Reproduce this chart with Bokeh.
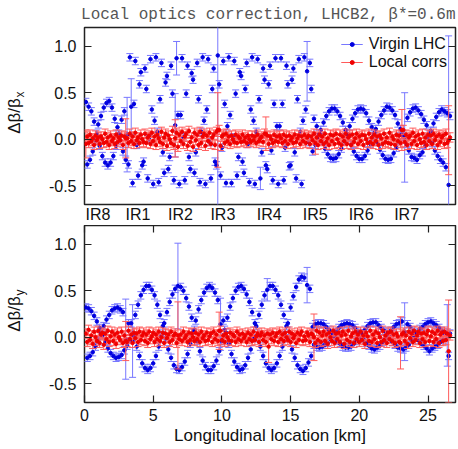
import numpy as np
from bokeh.plotting import figure
from bokeh.models import (Range1d, LinearAxis, FixedTicker, Legend, LegendItem,
                          ColumnDataSource, PrintfTickFormatter)
from bokeh.layouts import column
from bokeh.embed import file_html
from bokeh.resources import INLINE

# ---------------- data ----------------
s_km = [0.1, 0.2, 0.3, 0.4, 0.5, 0.6, 0.7, 0.8, 0.9, 1.0,
        1.1, 1.2, 1.3, 1.4, 1.5, 1.6, 1.7, 1.8, 1.9, 2.0,
        2.1, 2.2, 2.3, 2.4, 2.5, 2.6, 2.7, 2.8, 2.9, 3.0,
        3.1, 3.2, 3.3, 3.4, 3.5, 3.6, 3.7, 3.8, 3.9, 4.0,
        4.1, 4.2, 4.3, 4.4, 4.5, 4.6, 4.7, 4.8, 4.9, 5.0,
        5.1, 5.2, 5.3, 5.4, 5.5, 5.6, 5.7, 5.8, 5.9, 6.0,
        6.1, 6.2, 6.3, 6.4, 6.5, 6.6, 6.7, 6.8, 6.9, 7.0,
        7.1, 7.2, 7.3, 7.4, 7.5, 7.6, 7.7, 7.8, 7.9, 8.0,
        8.1, 8.2, 8.3, 8.4, 8.5, 8.6, 8.7, 8.8, 8.9, 9.0,
        9.1, 9.2, 9.3, 9.4, 9.5, 9.6, 9.7, 9.8, 9.9, 10.0,
        10.1, 10.2, 10.3, 10.4, 10.5, 10.6, 10.7, 10.8, 10.9, 11.0,
        11.1, 11.2, 11.3, 11.4, 11.5, 11.6, 11.7, 11.8, 11.9, 12.0,
        12.1, 12.2, 12.3, 12.4, 12.5, 12.6, 12.7, 12.8, 12.9, 13.0,
        13.1, 13.2, 13.3, 13.4, 13.5, 13.6, 13.7, 13.8, 13.9, 14.0,
        14.1, 14.2, 14.3, 14.4, 14.5, 14.6, 14.7, 14.8, 14.9, 15.0,
        15.1, 15.2, 15.3, 15.4, 15.5, 15.6, 15.7, 15.8, 15.9, 16.0,
        16.1, 16.2, 16.3, 16.4, 16.5, 16.6, 16.7, 16.8, 16.9, 17.0,
        17.1, 17.2, 17.3, 17.4, 17.5, 17.6, 17.7, 17.8, 17.9, 18.0,
        18.1, 18.2, 18.3, 18.4, 18.5, 18.6, 18.7, 18.8, 18.9, 19.0,
        19.1, 19.2, 19.3, 19.4, 19.5, 19.6, 19.7, 19.8, 19.9, 20.0,
        20.1, 20.2, 20.3, 20.4, 20.5, 20.6, 20.7, 20.8, 20.9, 21.0,
        21.1, 21.2, 21.3, 21.4, 21.5, 21.6, 21.7, 21.8, 21.9, 22.0,
        22.1, 22.2, 22.3, 22.4, 22.5, 22.6, 22.7, 22.8, 22.9, 23.0,
        23.1, 23.2, 23.3, 23.4, 23.5, 23.6, 23.7, 23.8, 23.9, 24.0,
        24.1, 24.2, 24.3, 24.4, 24.5, 24.6, 24.7, 24.8, 24.9, 25.0,
        25.1, 25.2, 25.3, 25.4, 25.5, 25.6, 25.7, 25.8, 25.9, 26.0,
        26.1, 26.2, 26.3, 26.4, 26.5, 26.6]

# horizontal beta-beating, virgin machine
dbx_virgin = [
    0.40, -0.27, 0.35, -0.22, 0.30, -0.13, 0.19, -0.01, 0.06, 0.16,
    -0.07, 0.25, -0.18, 0.34, -0.25, 0.39, -0.28, 0.41, -0.25, 0.34,
    -0.18, 0.22, -0.07, 0.13, 0.06, -0.01, 0.21, -0.13, 0.30, -0.22,
    0.05, -0.27,
    0.88, 0.35, -0.47, 0.38, 0.84, -0.06, -0.39, 0.59, 0.72, -0.28,
    -0.24, 0.76, 0.54, -0.42, 0.00, 0.86, 0.32, -0.48, 0.20, 0.88,
    0.08, -0.46, 0.43, 0.82, -0.14, -0.36, 0.61, 0.68, -0.32, -0.19,
    0.79, 0.49, -0.44, 0.15, 0.87, 0.26, -0.48, 0.26, 0.87, 0.02,
    -0.44, 0.49, 0.79, -0.19, -0.32, 0.71, 0.64, -0.36, -0.14, 0.82,
    0.43, -0.46, 0.08, 0.88, 0.20, -0.48, 0.32, 0.86, -0.03, -0.42,
    0.54, 0.76, -0.24, -0.28, 0.90, 0.59, -0.39, -0.09, 0.84, 0.38,
    -0.47, 0.14,
    0.88, 0.26, -0.47, 0.02, 0.84, 0.49, -0.39, -0.19, 0.72, 0.68,
    -0.24, -0.36, 0.54, 0.82, -0.05, -0.46, 0.32, 0.88, 0.20, -0.48,
    0.08, 0.86, 0.43, -0.42, -0.14, 0.76, 0.64, -0.28, -0.32, 0.59,
    0.79, -0.12, -0.44, 0.38, 0.87, 0.14, -0.48, 0.14, 0.87, 0.38,
    -0.44, -0.09, 0.79, 0.59, -0.29, -0.28, 0.64, 0.76, -0.14, -0.42,
    0.43, 0.86, 0.08, -0.48, 0.20, 0.88, 0.32, 0.73, -0.03, 0.82,
    0.54,
    -0.13, 0.22, -0.06, 0.14, 0.02, 0.06, 0.10, -0.02, 0.18, -0.10,
    0.25, -0.16, 0.30, -0.20, 0.33, -0.21, 0.33, -0.20, 0.30, -0.16,
    0.25, -0.10, 0.18, -0.02, 0.10, 0.06, 0.02, 0.14, -0.06, 0.22,
    -0.13, 0.28, -0.18, 0.32, -0.21, 0.33, -0.21, 0.32, -0.18, 0.28,
    -0.12, 0.20, -0.05, 0.13, 0.03, 0.07, 0.11, -0.03, 0.19, -0.11,
    0.26, -0.17, 0.31, -0.21, 0.35, -0.22, 0.34, -0.21, 0.31, -0.15,
    0.26, -0.09, 0.17, -0.01, 0.11, 0.05, 0.03, 0.02, -0.05, 0.23,
    -0.12, 0.29, -0.19, 0.33, -0.20, 0.34, -0.22, 0.31, -0.17, 0.27,
    -0.14, 0.21, -0.07, 0.15, 0.01, 0.05, 0.09, -0.04, 0.17, -0.12,
    0.24, -0.18, 0.29, -0.22, 0.32, -0.25, 0.30, -0.30, 0.28, -0.49,
    0.25]

# horizontal beta-beating after local corrections
dbx_corr = [
    -0.05, 0.03, -0.04, 0.05, -0.02, 0.01, -0.06, 0.04, -0.01, 0.02,
    -0.05, 0.03, 0.00, -0.04, 0.06, -0.03, 0.02, -0.06, 0.04, -0.02,
    0.01, -0.05, 0.05, -0.03, 0.02, -0.01, 0.04, -0.06, 0.03, 0.01,
    0.01, -0.04, 0.06, -0.02, 0.03, -0.05, 0.07, -0.01, 0.02, -0.04,
    0.05, 0.00, -0.03, 0.06, -0.04, 0.02, 0.04, -0.05, 0.07, -0.02,
    0.03, -0.06, 0.05, 0.01, -0.03, 0.08, -0.05, 0.02, 0.06, -0.07,
    0.04, 0.00, -0.04, 0.09, -0.06, 0.01, 0.07, -0.08, 0.05, -0.02,
    0.08, -0.05, 0.03, 0.06, -0.07, 0.09, -0.03, 0.02, -0.08, 0.07,
    -0.01, 0.05, -0.06, 0.08, -0.04, 0.03, 0.06, -0.07, 0.04, -0.02,
    0.07, -0.05, 0.02, 0.05, -0.06, 0.08, 0.10, 0.10, -0.07, 0.03,
    0.05, -0.04, 0.06, -0.02, 0.03, -0.05, 0.04, 0.00, -0.03, 0.05,
    -0.04, 0.03, 0.01, -0.03, 0.05, -0.02, 0.02, -0.04, 0.04, 0.00,
    -0.03, 0.04, -0.01, 0.03, -0.04, 0.05, -0.02, 0.01, 0.03, -0.03,
    0.06, 0.06, 0.04, -0.05, 0.03, 0.00, -0.04, 0.05, -0.02, 0.03,
    -0.03, 0.04, 0.01, -0.04, 0.05, -0.02, 0.03, -0.05, 0.04, -0.01,
    0.02, -0.04, 0.05, -0.03, 0.01, 0.04, -0.05, 0.03, -0.02, 0.05,
    -0.04, 0.02, 0.04, -0.05, 0.03, -0.01, 0.06, -0.04, 0.02, -0.06,
    0.05, -0.02, 0.03, -0.05, 0.06, -0.03, 0.01, -0.06, 0.05, -0.02,
    0.04, -0.05, 0.06, 0.00, -0.04, 0.05, -0.06, 0.03, -0.02, 0.06,
    -0.05, 0.02, 0.04, -0.06, 0.05, -0.03, 0.01, 0.06, -0.05, 0.03,
    -0.02, 0.05, -0.06, 0.04, 0.00, -0.04, 0.06, -0.03, 0.02, -0.05,
    0.05, -0.02, 0.03, -0.06, 0.04, 0.01, -0.05, 0.06, -0.03, 0.02,
    -0.04, 0.07, -0.05, 0.03, 0.00, -0.06, 0.05, -0.02, 0.04, -0.04,
    0.10, 0.10, -0.03, 0.05, -0.06, 0.02, 0.04, -0.05, 0.07, -0.02,
    0.03, -0.06, 0.05, 0.00, -0.04, 0.06, -0.03, 0.02, -0.06, 0.05,
    -0.02, 0.04, -0.05, 0.06, -0.01, 0.03, -0.06, 0.05, -0.03, 0.02,
    0.04, -0.05, 0.06, -0.04, -0.01, 0.02]

# vertical beta-beating, virgin machine
dby_virgin = [
    0.32, -0.22, 0.31, -0.20, 0.28, -0.16, 0.23, -0.10, 0.17, -0.03,
    0.10, 0.04, 0.02, 0.12, -0.05, 0.19, -0.12, 0.24, -0.17, 0.29,
    -0.20, 0.31, -0.22, 0.32, -0.21, 0.30, -0.19, 0.27, -0.14, -0.02,
    -0.09, 0.15, -0.02,
    0.15, -0.04, 0.02, 0.24, -0.10, 0.35, -0.20,
    0.45, -0.28, 0.51, -0.33, 0.55, -0.35, 0.55, -0.33, 0.51, -0.28,
    0.45, -0.20, 0.35, -0.10, 0.24, 0.02, 0.12, 0.15, -0.01, 0.27,
    -0.13, 0.38, -0.22, 0.46, -0.30, 0.52, -0.34, 0.55, -0.35, 0.54,
    -0.32, 0.50, -0.26, 0.42, -0.18, 0.33, -0.07, 0.21, 0.05, 0.08,
    0.18, -0.04, 0.30, -0.15, 0.40, -0.25, 0.48, -0.31, 0.53, -0.35,
    0.55, -0.35, 0.53, -0.31, 0.48, -0.25, 0.40, -0.15, 0.14, -0.04,
    0.18, 0.08, 0.05, 0.21, -0.07, 0.33, -0.18, 0.42, -0.26, 0.50,
    -0.32, 0.54, -0.35, 0.55, -0.34, 0.52, -0.30, 0.46, -0.22, 0.38,
    -0.13, 0.27, -0.01, 0.15, 0.12, 0.02, 0.24, -0.10, 0.35, -0.20,
    0.45, -0.28, 0.51, -0.33, 0.55, -0.35, 0.55, -0.33, 0.51, -0.28,
    0.45, -0.20, 0.35, -0.10, 0.24, 0.02, 0.12, 0.15, -0.01, 0.32,
    -0.13, 0.44, -0.22, 0.54, -0.30, 0.62, -0.34, 0.65, -0.36, 0.64,
    -0.33, 0.56, -0.27, 0.52, -0.20,
    0.11, -0.08, 0.14, -0.10, 0.15, -0.11, 0.15, -0.10, 0.14, -0.08,
    0.11, -0.06, 0.08, -0.02, 0.04, 0.02, 0.00, 0.06, -0.04, 0.10,
    -0.07, 0.13, -0.10, 0.14, -0.11, 0.15, -0.11, 0.14, -0.10, 0.13,
    -0.07, 0.10, -0.04, 0.06, 0.00, 0.02, 0.04, -0.02, 0.08, -0.06,
    0.12, -0.09, 0.15, -0.12, 0.16, -0.13, 0.16, -0.11, 0.13, -0.09,
    0.10, -0.05, 0.07, -0.01, 0.05, 0.01, 0.01, 0.07, -0.05, 0.11,
    -0.08, 0.14, -0.11, 0.15, -0.12, 0.17, -0.13, 0.06, -0.11, 0.14,
    -0.08, 0.11, -0.03, 0.07, 0.01, 0.03, 0.05, -0.03, 0.09, -0.07,
    0.11, -0.09, 0.14, -0.12, 0.16, -0.15, 0.17, -0.12, 0.15, -0.10,
    0.13, -0.08, 0.10, -0.05, 0.07, -0.03, 0.05, 0.03, 0.02, -0.20,
    0.04]

# vertical beta-beating after local corrections
dby_corr = [
    0.04, -0.05, 0.08, -0.03, 0.02, -0.07, 0.06, 0.00, -0.04, 0.07,
    -0.06, 0.03, 0.05, -0.08, 0.04, -0.02, 0.07, -0.05, 0.01, 0.06,
    -0.04, 0.03, -0.07, 0.05, 0.00, -0.03, 0.06, -0.06, 0.02, -0.04,
    -0.05, 0.07, -0.02, 0.03, -0.06, 0.05, -0.01, 0.04, -0.05, 0.06,
    -0.03, 0.02, 0.05, -0.04, 0.03, -0.06, 0.06, -0.02, 0.01, 0.05,
    -0.05, 0.03, -0.02, 0.06, -0.04, 0.00, 0.05, -0.06, 0.04, -0.01,
    0.03, -0.05, 0.06, -0.03, 0.02, 0.04, -0.06, 0.02, -0.02, 0.03,
    -0.04, 0.06, -0.01, 0.02, -0.05, 0.05, -0.03, 0.04, 0.00, -0.04,
    0.05, -0.02, 0.03, -0.05, 0.06, -0.01, 0.02, -0.04, 0.05, -0.03,
    0.01, 0.04, -0.05, 0.06, -0.02, 0.03, -0.04, 0.07, 0.07, -0.03,
    0.02, -0.05, 0.04, 0.00, -0.03, 0.05, -0.04, 0.03, 0.01, -0.05,
    0.06, -0.02, 0.03, -0.04, 0.04, -0.01, 0.02, -0.05, 0.05, -0.02,
    0.03, -0.04, 0.06, -0.03, 0.01, 0.04, -0.05, 0.02, 0.05, -0.03,
    0.02, -0.05, 0.04, -0.10, 0.03, -0.02, 0.05, -0.04, 0.01, 0.04,
    -0.05, 0.06, -0.02, 0.03, -0.04, 0.05, 0.00, -0.03, 0.06, -0.05,
    0.04, -0.01, 0.02, -0.06, 0.05, -0.03, 0.03, 0.06, -0.04, 0.01,
    -0.03, 0.05, 0.02, -0.05, 0.04, 0.03, 0.00, -0.06, 0.07, -0.03,
    0.05, -0.05, 0.02, 0.06, -0.04, 0.03, -0.07, 0.05, 0.00, -0.04,
    0.07, -0.06, 0.04, -0.02, 0.05, -0.05, 0.02, 0.06, -0.07, 0.03,
    -0.03, 0.07, -0.05, 0.01, 0.04, -0.06, 0.06, -0.02, 0.03, -0.05,
    0.06, -0.03, 0.02, -0.07, 0.05, 0.01, -0.04, 0.07, -0.05, 0.03,
    -0.02, 0.06, -0.06, 0.04, 0.00, -0.05, 0.07, -0.03, 0.02, -0.06,
    0.05, -0.02, 0.06, -0.04, 0.03, -0.06, 0.04, 0.01, -0.05, -0.06,
    0.03, 0.05, -0.04, 0.02, -0.07, 0.06, -0.01, 0.04, -0.05, 0.07,
    -0.03, 0.02, 0.06, -0.06, 0.04, -0.02, 0.05, -0.05, 0.03, 0.07,
    -0.04, 0.01, 0.06, -0.05, 0.04, -0.02, 0.07, -0.06, 0.03, 0.05,
    -0.04, 0.06, -0.03, 0.04, -0.15, 0.02]

# error bars: typical size, and the BPMs with large errors (index -> error)
err_virgin_typ = 0.04
err_corr_typ = 0.05
dbx_virgin_err_big = {30: 0.40, 33: 0.30, 65: 0.34, 66: 0.18, 96: 1.80,
                      127: 0.12, 161: 0.32, 232: 0.48, 264: 1.60}
dbx_corr_err_big = {0: 0.15, 29: 0.21, 65: 0.20, 96: 0.40, 131: 0.18,
                    167: 0.12, 230: 0.22, 264: 0.37}
dby_virgin_err_big = {29: 0.43, 34: 0.39, 67: 0.46, 98: 0.28, 132: 0.12,
                      161: 0.19, 232: 0.31, 263: 0.33}
dby_corr_err_big = {29: 0.21, 67: 0.36, 97: 0.20, 133: 0.17, 166: 0.25,
                    229: 0.28, 264: 0.55}

ir_names = ["IR8", "IR1", "IR2", "IR3", "IR4", "IR5", "IR6", "IR7"]
ir_pos_km = [0.98, 3.89, 6.98, 10.07, 13.44, 16.79, 20.13, 23.44]
y_ticks = [-0.5, 0.0, 0.5, 1.0]
x_ticks = [0, 5, 10, 15, 20, 25]

# ---------------- style ----------------
FONT = "Liberation Sans"
BLUE_BAR, BLUE_PT = "#7878ff", "#0000e0"
RED_BAR, RED_PT = "#ff5a5a", "#f00000"
SUB_POS = 0.48   # where the subscript of the y label sits along the axis


def make_source(vals, typ, big):
    v = np.array(vals, dtype=float)
    e = np.array([big.get(i, typ) for i in range(len(vals))], dtype=float)
    return ColumnDataSource(dict(s=s_km, y=v, lo=v - e, hi=v + e))


def draw_series(p, src, bar_color, pt_color):
    seg = p.segment(x0="s", y0="lo", x1="s", y1="hi", source=src,
                    line_color=bar_color, line_width=1)
    p.scatter(x="s", y="lo", marker="dash", size=7, line_color=bar_color,
              line_width=1, source=src)
    p.scatter(x="s", y="hi", marker="dash", size=7, line_color=bar_color,
              line_width=1, source=src)
    pts = p.scatter(x="s", y="y", marker="circle", size=3.5, fill_color=pt_color,
                    line_color=pt_color, source=src)
    return seg, pts


def mirror_axis(ticks):
    ax = LinearAxis(ticker=FixedTicker(ticks=ticks), major_tick_in=7, major_tick_out=0,
                    minor_tick_line_color=None, axis_line_color=None,
                    major_tick_line_color="#222222", major_tick_line_width=1.2,
                    major_label_standoff=0,
                    major_label_overrides={t: "" for t in ticks})
    return ax


def style_panel(p, sub):
    p.outline_line_color = "#222222"
    p.outline_line_width = 1.5
    p.xgrid.visible = False
    p.ygrid.visible = False
    p.background_fill_color = "white"
    p.border_fill_color = "white"
    yax = p.yaxis[0]
    yax.ticker = FixedTicker(ticks=y_ticks)
    yax.formatter = PrintfTickFormatter(format="%.1f")
    yax.major_tick_in = 7
    yax.major_tick_out = 0
    yax.minor_tick_line_color = None
    yax.axis_line_color = None
    yax.major_tick_line_color = "#222222"
    yax.major_tick_line_width = 1.2
    yax.major_label_standoff = 8
    yax.major_label_text_font = FONT
    yax.major_label_text_font_size = "16px"
    yax.major_label_text_color = "#111111"
    # y label: "Δβ/β" with a subscript ("x" / "y") drawn as a single tick label
    lab = LinearAxis(ticker=FixedTicker(ticks=[SUB_POS]),
                     major_label_overrides={SUB_POS: sub},
                     major_label_orientation="vertical",
                     major_label_standoff=18,
                     major_label_text_font=FONT, major_label_text_font_size="12px",
                     major_label_text_color="#111111",
                     major_tick_line_color=None, minor_tick_line_color=None,
                     axis_line_color=None, major_tick_in=0, major_tick_out=0,
                     axis_label="Δβ/β", axis_label_text_font=FONT,
                     axis_label_text_font_size="17px", axis_label_text_font_style="normal",
                     axis_label_text_color="#111111", axis_label_standoff=-13)
    p.add_layout(lab, "left")
    p.add_layout(mirror_axis(y_ticks), "right")


x_range = Range1d(0, 27)

# ---------------- top panel (horizontal) ----------------
p1 = figure(frame_width=371, frame_height=177, x_range=x_range,
            y_range=Range1d(-0.7, 1.2), output_backend="svg", toolbar_location=None,
            min_border_left=84, min_border_right=3, min_border_top=0, min_border_bottom=0)
p1.title.text = "Local optics correction, LHCB2, β*=0.6m"
p1.title.align = "right"
p1.title.text_font = "Liberation Mono"
p1.title.text_font_size = "16px"
p1.title.text_font_style = "normal"
p1.title.text_color = "#555555"
p1.title.standoff = 7
style_panel(p1, "x")
xax1 = p1.xaxis[0]
xax1.ticker = FixedTicker(ticks=ir_pos_km)
xax1.major_label_overrides = {pos: name for pos, name in zip(ir_pos_km, ir_names)}
xax1.major_tick_line_color = None
xax1.minor_tick_line_color = None
xax1.axis_line_color = None
xax1.major_tick_in = 0
xax1.major_tick_out = 0
xax1.major_label_standoff = 1
xax1.major_label_text_font = FONT
xax1.major_label_text_font_size = "16px"
xax1.major_label_text_color = "#111111"

bx_seg, bx_pts = draw_series(p1, make_source(dbx_virgin, err_virgin_typ, dbx_virgin_err_big),
                             BLUE_BAR, BLUE_PT)
rx_seg, rx_pts = draw_series(p1, make_source(dbx_corr, err_corr_typ, dbx_corr_err_big),
                             RED_BAR, RED_PT)
legend = Legend(items=[LegendItem(label="Virgin LHC", renderers=[bx_seg, bx_pts]),
                       LegendItem(label="Local corrs", renderers=[rx_seg, rx_pts])],
                location="top_right", margin=8, padding=2, spacing=0,
                label_text_font=FONT, label_text_font_size="16px",
                label_text_color="#111111", label_height=17, glyph_height=10,
                glyph_width=22, label_standoff=6,
                border_line_color=None, background_fill_alpha=0)
p1.add_layout(legend)

# ---------------- bottom panel (vertical) ----------------
p2 = figure(frame_width=371, frame_height=177, x_range=x_range,
            y_range=Range1d(-0.7, 1.2), output_backend="svg", toolbar_location=None,
            min_border_left=84, min_border_right=3, min_border_top=0, min_border_bottom=0)
style_panel(p2, "y")
xax2 = p2.xaxis[0]
xax2.ticker = FixedTicker(ticks=x_ticks)
xax2.major_tick_in = 7
xax2.major_tick_out = 0
xax2.minor_tick_line_color = None
xax2.axis_line_color = None
xax2.major_tick_line_color = "#222222"
xax2.major_tick_line_width = 1.2
xax2.major_label_standoff = 6
xax2.major_label_text_font = FONT
xax2.major_label_text_font_size = "16px"
xax2.major_label_text_color = "#111111"
xax2.axis_label = "Longitudinal location [km]"
xax2.axis_label_text_font = FONT
xax2.axis_label_text_font_size = "17px"
xax2.axis_label_text_font_style = "normal"
xax2.axis_label_text_color = "#111111"
xax2.axis_label_standoff = 2
p2.add_layout(mirror_axis(x_ticks), "above")

draw_series(p2, make_source(dby_virgin, err_virgin_typ, dby_virgin_err_big), BLUE_BAR, BLUE_PT)
draw_series(p2, make_source(dby_corr, err_corr_typ, dby_corr_err_big), RED_BAR, RED_PT)

layout = column(p1, p2, spacing=0)
with open("out.html", "w") as f:
    f.write(file_html(layout, INLINE))
